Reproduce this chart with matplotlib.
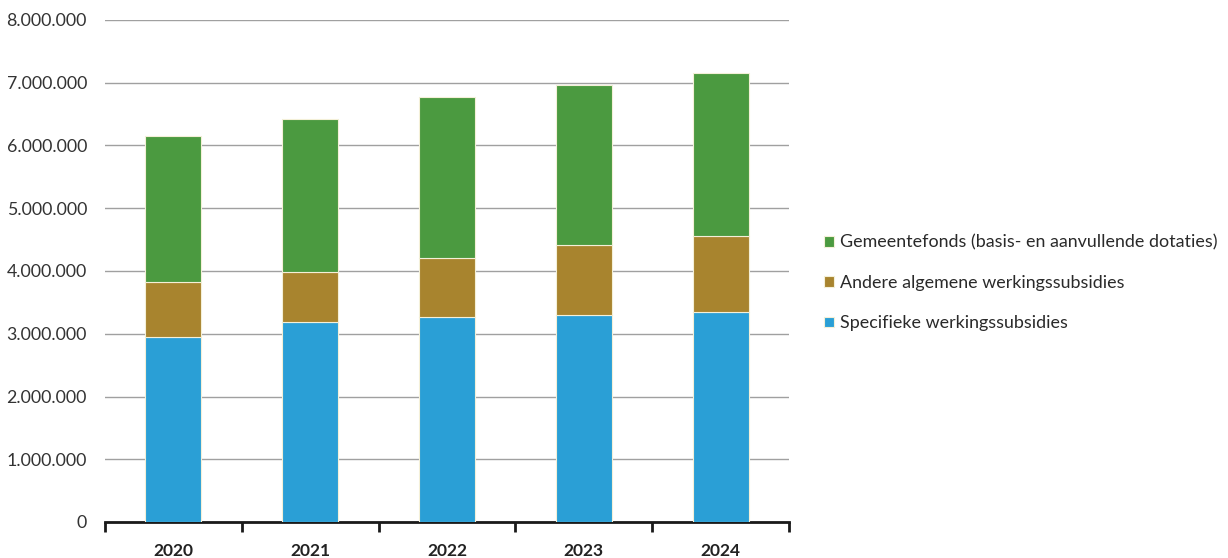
import matplotlib.pyplot as plt
import numpy as np
from matplotlib.ticker import FuncFormatter, FixedLocator

years = ["2020", "2021", "2022", "2023", "2024"]
specifieke = [2950000, 3190000, 3260000, 3300000, 3350000]
andere = [870000, 800000, 940000, 1110000, 1210000]
gemeentefonds = [2330000, 2440000, 2570000, 2560000, 2590000]

labels = ["Specifieke werkingssubsidies",
          "Andere algemene werkingssubsidies",
          "Gemeentefonds (basis- en aanvullende dotaties)"]
colors = ["#2a9fd6", "#a8842e", "#4b9a40"]

plt.rcParams['font.family'] = ['Lato', 'DejaVu Sans']

fig = plt.figure(figsize=(12.28, 5.58), dpi=100)
ax = fig.add_axes([105/1228, 1-522/558, (789-105)/1228, (522-20)/558])

x = np.arange(len(years))
w = 0.41
b1 = ax.bar(x, specifieke, w, color=colors[0], edgecolor='#f4f0d8', linewidth=0.8, label=labels[0], zorder=3)
b2 = ax.bar(x, andere, w, bottom=specifieke, color=colors[1], edgecolor='#f4f0d8', linewidth=0.8, label=labels[1], zorder=3)
bottom2 = [a + b for a, b in zip(specifieke, andere)]
b3 = ax.bar(x, gemeentefonds, w, bottom=bottom2, color=colors[2], edgecolor='#f4f0d8', linewidth=0.8, label=labels[2], zorder=3)

ax.set_xlim(-0.5, len(years) - 0.5)
ax.set_ylim(0, 8000000)
ax.set_yticks(np.arange(0, 8000001, 1000000))
ax.yaxis.set_major_formatter(FuncFormatter(lambda v, p: f"{int(v):,}".replace(",", ".")))
ax.grid(axis='y', color='#a0a0a0', linewidth=1.0, zorder=0)
ax.set_axisbelow(True)

for s in ['top', 'right', 'left']:
    ax.spines[s].set_visible(False)
ax.spines['bottom'].set_color('#1a1a1a')
ax.spines['bottom'].set_linewidth(2.0)

ax.tick_params(axis='y', length=0, labelsize=12.8, labelcolor='#333333', pad=13)
ax.set_xticks(x)
ax.set_xticklabels(years, fontweight='bold', fontsize=12.5, color='#222222')
ax.tick_params(axis='x', which='major', length=0, pad=15)
ax.xaxis.set_minor_locator(FixedLocator(np.arange(-0.5, len(years), 1.0)))
ax.tick_params(axis='x', which='minor', length=7, width=2, color='#1a1a1a', direction='out')

handles = [b3, b2, b1]
leg = fig.legend(handles, [labels[2], labels[1], labels[0]],
                 loc='center left', bbox_to_anchor=(808/1228, 1-283/558),
                 frameon=False, fontsize=12.9, handlelength=0.55, handleheight=0.55,
                 handletextpad=0.35, labelspacing=1.35, labelcolor='#2a2a2a')

fig.savefig("out.png", dpi=100)
